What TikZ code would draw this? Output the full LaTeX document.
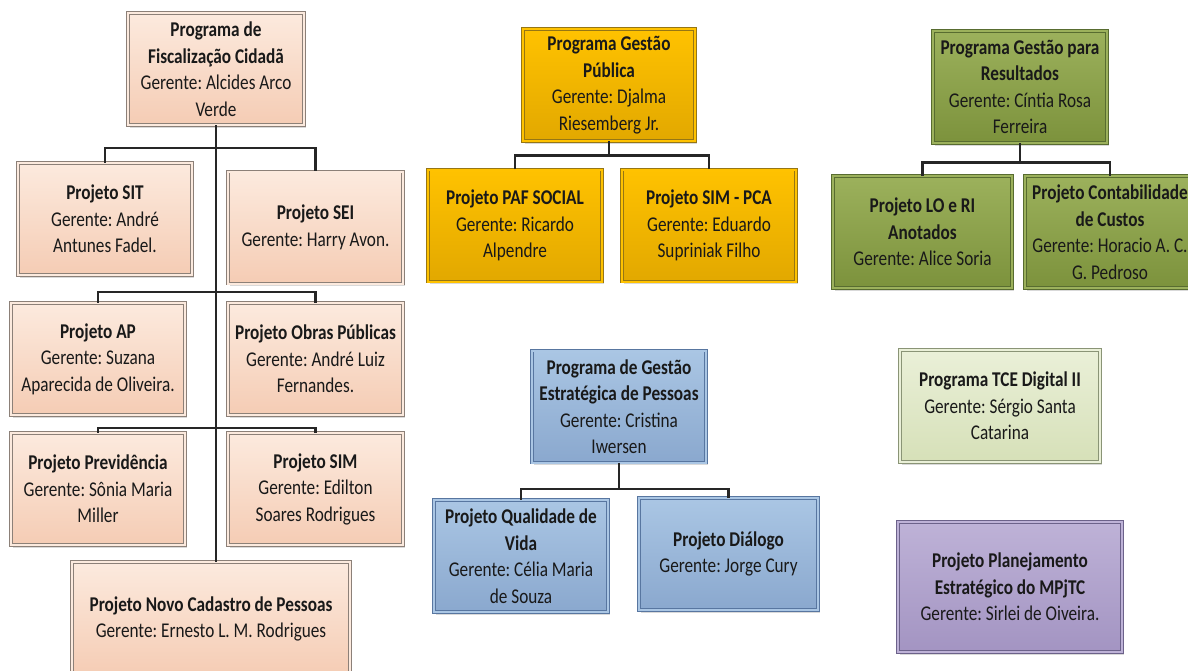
\documentclass[tikz,border=0pt]{standalone}
\usepackage{fontspec}
\setmainfont{Carlito}[FakeStretch=0.82]
\usetikzlibrary{shadows}
\frenchspacing
\definecolor{pinktop}{RGB}{252,234,222}
\definecolor{pinkbot}{RGB}{245,204,180}
\definecolor{pinkline}{RGB}{140,128,120}
\definecolor{orgtop}{RGB}{255,194,0}
\definecolor{orgbot}{RGB}{226,168,0}
\definecolor{orgline}{RGB}{150,118,20}
\definecolor{grntop}{RGB}{156,177,92}
\definecolor{grnbot}{RGB}{124,146,60}
\definecolor{grnline}{RGB}{88,108,48}
\definecolor{blutop}{RGB}{170,198,228}
\definecolor{blubot}{RGB}{138,168,206}
\definecolor{bluline}{RGB}{88,118,160}
\definecolor{ltgtop}{RGB}{234,240,216}
\definecolor{ltgbot}{RGB}{214,224,184}
\definecolor{ltgline}{RGB}{138,148,118}
\definecolor{purtop}{RGB}{190,178,215}
\definecolor{purbot}{RGB}{163,148,194}
\definecolor{purline}{RGB}{108,98,138}
\tikzset{
  box/.style={line width=0.6pt, double distance=2pt, minimum height=112pt,
    inner sep=2pt, align=center, text=black!90,
    font=\fontsize{21}{26.5}\selectfont\frenchspacing,
    drop shadow={opacity=0.3, shadow xshift=2pt, shadow yshift=-2.5pt}},
  pinkbox/.style={box, draw=pinkline, double=pinktop, top color=pinktop, bottom color=pinkbot},
  orgbox/.style={box, draw=orgline, double=orgtop, top color=orgtop, bottom color=orgbot},
  grnbox/.style={box, draw=grnline, double=grntop, top color=grntop, bottom color=grnbot},
  blubox/.style={box, draw=bluline, double=blutop, top color=blutop, bottom color=blubot},
  ltgbox/.style={box, draw=ltgline, double=ltgtop, top color=ltgtop, bottom color=ltgbot},
  purbox/.style={box, draw=purline, double=purtop, top color=purtop, bottom color=purbot},
  link/.style={draw=black!85, line width=2.6pt}
}
\begin{document}
\begin{tikzpicture}[x=1pt,y=-1pt]
      \useasboundingbox (0,0) rectangle (1188,670);
      \path
        (216,69) node[pinkbox, minimum width=176pt] (fisc)
          {\textbf{Programa de}\\\textbf{Fiscalização Cidadã}\\Gerente: Alcides Arco\\Verde}
        (105,219) node[pinkbox, minimum width=174pt] (sit)
          {\textbf{Projeto SIT}\\Gerente: André\\Antunes Fadel.}
        (315.5,227.5) node[pinkbox, minimum width=175pt] (sei)
          {\textbf{Projeto SEI}\\Gerente: Harry Avon.}
        (98,359) node[pinkbox, minimum width=174pt] (ap)
          {\textbf{Projeto AP}\\Gerente: Suzana\\Aparecida de Oliveira.}
        (315.5,359) node[pinkbox, minimum width=175pt] (obras)
          {\textbf{Projeto Obras Públicas}\\Gerente: André Luiz\\Fernandes.}
        (98,489) node[pinkbox, minimum width=174pt] (prev)
          {\textbf{Projeto Previdência}\\Gerente: Sônia Maria\\Miller}
        (315.5,489) node[pinkbox, minimum width=175pt] (sim)
          {\textbf{Projeto SIM}\\Gerente: Edilton\\Soares Rodrigues}
        (211,619) node[pinkbox, minimum width=278pt, minimum height=114pt] (novo)
          {\textbf{Projeto Novo Cadastro de Pessoas}\\Gerente: Ernesto L. M. Rodrigues}
        (609,85) node[orgbox, minimum width=172pt] (pub)
          {\textbf{Programa Gestão}\\\textbf{Pública}\\Gerente: Djalma\\Riesemberg Jr.}
        (515,225.5) node[orgbox, minimum width=174pt] (paf)
          {\textbf{Projeto PAF SOCIAL}\\Gerente: Ricardo\\Alpendre}
        (709,225.5) node[orgbox, minimum width=174pt] (simpca)
          {\textbf{Projeto SIM - PCA}\\Gerente: Eduardo\\Supriniak Filho}
        (1020,87) node[grnbox, minimum width=174pt] (res)
          {\textbf{Programa Gestão para}\\\textbf{Resultados}\\Gerente: Cíntia Rosa\\Ferreira}
        (922.5,232) node[grnbox, minimum width=179pt] (lori)
          {\textbf{Projeto LO e RI}\\\textbf{Anotados}\\Gerente: Alice Soria}
        (1110,232) node[grnbox, minimum width=170pt] (cont)
          {\textbf{Projeto Contabilidade}\\\textbf{de Custos}\\Gerente: Horacio A. C.\\G. Pedroso}
        (619,406.5) node[blubox, minimum width=174pt] (est)
          {\textbf{Programa de Gestão}\\\textbf{Estratégica de Pessoas}\\Gerente: Cristina\\Iwersen}
        (521,556) node[blubox, minimum width=174pt] (qual)
          {\textbf{Projeto Qualidade de}\\\textbf{Vida}\\Gerente: Célia Maria\\de Souza}
        (728.5,554) node[blubox, minimum width=179pt] (dial)
          {\textbf{Projeto Diálogo}\\Gerente: Jorge Cury}
        (1000,406) node[ltgbox, minimum width=200pt] (tce)
          {\textbf{Programa TCE Digital II}\\Gerente: Sérgio Santa\\Catarina}
        (1010,587) node[purbox, minimum width=224pt, minimum height=130pt] (plan)
          {\textbf{Projeto Planejamento}\\\textbf{Estratégico do MPjTC}\\Gerente: Sirlei de Oiveira.};
      \coordinate (fiscbar1) at (216,148);
      \coordinate (fiscbar2) at (216,292);
      \coordinate (fiscbar3) at (216,428);
      \coordinate (pubbar) at ([yshift=-14pt]pub.south);
      \coordinate (resbar) at ([yshift=-19pt]res.south);
      \coordinate (estbar) at ([yshift=-26pt]est.south);
      \begin{scope}[link]
        \draw (fisc.south) to (fisc.south |- novo.north);
        \draw (sit.north) |- (fiscbar1) -| (sei.north);
        \draw (ap.north) |- (fiscbar2) -| (obras.north);
        \draw (prev.north) |- (fiscbar3) -| (sim.north);
        \draw (pub.south) to (pubbar);
        \draw (paf.north) |- (pubbar) -| (simpca.north);
        \draw (res.south) to (resbar);
        \draw (lori.north) |- (resbar) -| (cont.north);
        \draw (est.south) to (estbar);
        \draw (qual.north) |- (estbar) -| (dial.north);
      \end{scope}
    \end{tikzpicture}
\end{document}
